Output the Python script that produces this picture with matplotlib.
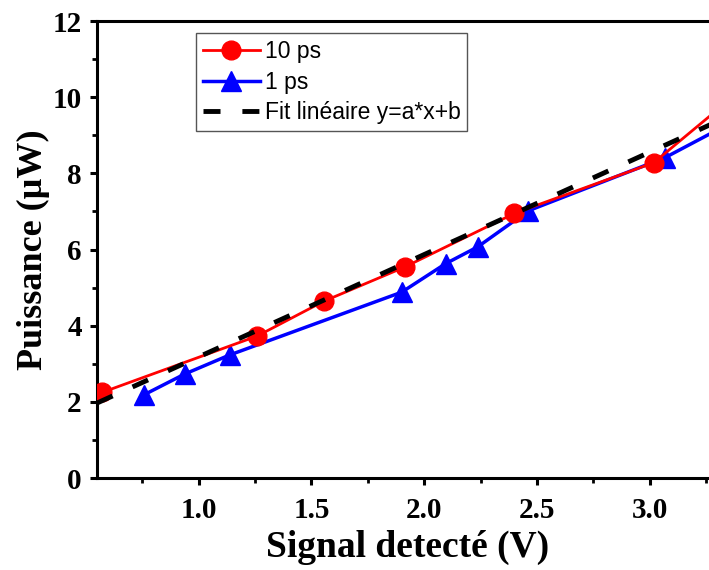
import numpy as np
import matplotlib
matplotlib.use('Agg')
import matplotlib.pyplot as plt
from matplotlib.ticker import MultipleLocator

# 10 ps series
x_10ps = [0.573, 1.26, 1.554, 1.913, 2.40, 3.017, 3.35]
y_10ps = [2.25, 3.73, 4.64, 5.54, 6.95, 8.28, 9.92]

# 1 ps series
x_1ps = [0.756, 0.938, 1.137, 1.90, 2.095, 2.237, 2.462, 3.066, 3.35]
y_1ps = [2.18, 2.73, 3.23, 4.88, 5.63, 6.07, 7.02, 8.41, 9.30]

# linear fit endpoints
x_fit = [0.55, 3.35]
y_fit = [1.97, 9.50]

serif = 'Liberation Serif'
sans = 'Liberation Sans'

fig = plt.figure(figsize=(7.09, 5.70), dpi=100)
ax = fig.add_axes([0.137, 0.1614, 0.875, 0.8016])

ax.plot(x_10ps, y_10ps, color='red', lw=2.0, marker='o', ms=13.5,
        label='10 ps', zorder=3)
ax.plot(x_1ps, y_1ps, color='blue', lw=2.5, marker='^', ms=14,
        label='1 ps', zorder=2)
ax.plot(x_fit, y_fit, color='black', lw=3.5, ls=(0, (3.5, 4.5)),
        label='Fit linéaire y=a*x+b', zorder=4)

ax.set_xlim(0.55, 3.30)
ax.set_ylim(0, 12)
ax.xaxis.set_major_locator(MultipleLocator(0.5))
ax.xaxis.set_minor_locator(MultipleLocator(0.25))
ax.yaxis.set_major_locator(MultipleLocator(2))
ax.yaxis.set_minor_locator(MultipleLocator(1))
ax.set_xticks([1.0, 1.5, 2.0, 2.5, 3.0])

for s in ['left', 'bottom', 'top']:
    ax.spines[s].set_linewidth(2.2)
ax.spines['right'].set_visible(False)

ax.tick_params(which='major', direction='out', length=5, width=2.2,
               top=False, right=False, labelsize=21, pad=6)
ax.tick_params(which='minor', direction='out', length=3.5, width=2.0,
               top=False, right=False)
ax.tick_params(axis='x', which='major', pad=9)
for lab in ax.get_xticklabels() + ax.get_yticklabels():
    lab.set_fontfamily(serif)
    lab.set_fontweight('bold')

ax.set_xlabel('Signal detecté (V)', fontfamily=serif, fontweight='bold',
              fontsize=27, labelpad=4)
ax.set_ylabel('Puissance (µW)', fontfamily=serif, fontweight='bold',
              fontsize=26, labelpad=2)

leg = ax.legend(loc='upper left', bbox_to_anchor=(0.159, 0.973),
                prop={'family': sans, 'size': 16.5}, fancybox=False,
                edgecolor='#555555', framealpha=1, handlelength=2.5,
                handletextpad=0.2, borderpad=0.3, labelspacing=0.32,
                borderaxespad=0)
leg.get_frame().set_linewidth(1.0)

fig.savefig('out.png', dpi=100)
